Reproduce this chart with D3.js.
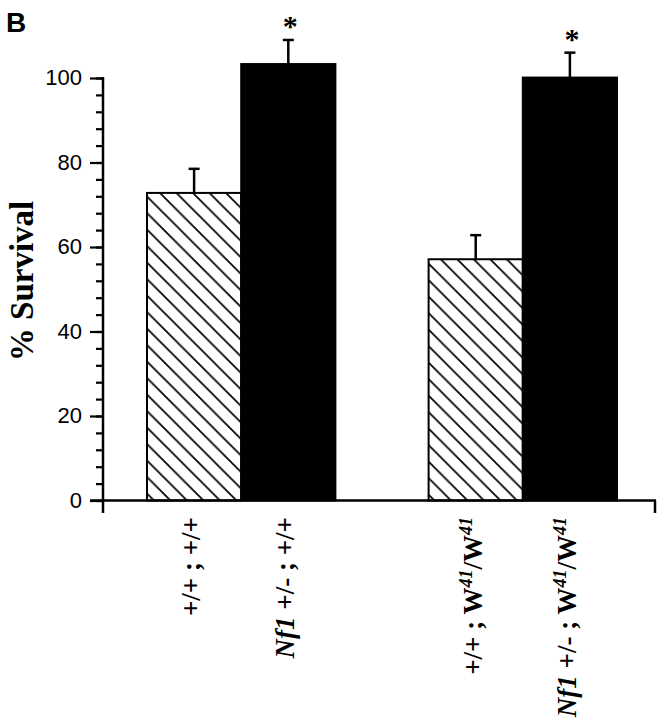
<!DOCTYPE html>
<html>
<head>
<meta charset="utf-8">
<script src="https://cdn.jsdelivr.net/npm/d3@7"></script>
<style>
  html, body { margin: 0; padding: 0; background: #fff; }
  svg { display: block; }
</style>
</head>
<body>
<svg id="chart" width="667" height="720"></svg>
<script>
// ---- data ----
const kitGroups = ["+/+", "W41/W41"];
const nf1Genotypes = ["+/+", "Nf1 +/-"];
const survival = [
  [72.8, 103.3],   // kit +/+ : nf1 +/+, Nf1 +/-
  [57.1, 100.1]    // W41/W41 : nf1 +/+, Nf1 +/-
];
const errorUp = [
  [5.7, 5.7],
  [5.7, 5.9]
];
const significant = [
  [false, true],
  [false, true]
];
const yTicks = [0, 20, 40, 60, 80, 100];
const yMinorTicks = [0, 4, 8, 12, 16, 20, 24, 28, 32, 36, 40, 44, 48, 52, 56, 60, 64, 68, 72, 76, 80, 84, 88, 92, 96, 100];
const yTitle = "% Survival";
const panelLetter = "B";

// ---- layout ----
const svg = d3.select("#chart");
const serif = "'Liberation Serif', 'Times New Roman', serif";
const sans = "'Liberation Sans', Arial, Helvetica, sans-serif";

const y = d3.scaleLinear().domain([0, 100]).range([500.5, 78]);
const x0 = d3.scaleBand().domain(kitGroups).range([147, 617]).paddingInner(0.331).paddingOuter(0);
const x1 = d3.scaleBand().domain(nf1Genotypes).range([0, x0.bandwidth()]).padding(0);

// hatch pattern
const defs = svg.append("defs");
const hp = defs.append("pattern")
  .attr("id", "hatch")
  .attr("patternUnits", "userSpaceOnUse")
  .attr("width", 16.5).attr("height", 16.5);
hp.append("rect").attr("width", 16.5).attr("height", 16.5).attr("fill", "#fff");
hp.append("path")
  .attr("d", "M-4,-4 L20.5,20.5 M-4,12.5 L4,20.5 M12.5,-4 L20.5,4")
  .attr("stroke", "#000").attr("stroke-width", 1.7);

// panel letter
svg.append("text")
  .attr("x", 6).attr("y", 32)
  .attr("font-family", sans).attr("font-weight", "bold").attr("font-size", 28)
  .text(panelLetter);

// bars
const cells = [];
kitGroups.forEach((g, gi) => {
  nf1Genotypes.forEach((n, ni) => {
    cells.push({ g, n, gi, ni, v: survival[gi][ni], e: errorUp[gi][ni], s: significant[gi][ni] });
  });
});

const barG = svg.append("g");
barG.selectAll("rect.bar").data(cells).join("rect")
  .attr("class", "bar")
  .attr("x", d => x0(d.g) + x1(d.n))
  .attr("y", d => y(d.v))
  .attr("width", x1.bandwidth())
  .attr("height", d => y(0) - y(d.v))
  .attr("fill", d => d.ni === 0 ? "url(#hatch)" : "#000")
  .attr("stroke", "#000").attr("stroke-width", 2);

// error bars (upper only)
const errG = svg.append("g").attr("stroke", "#000").attr("stroke-width", 2.5);
cells.forEach(d => {
  const cx = x0(d.g) + x1(d.n) + x1.bandwidth() / 2;
  errG.append("line").attr("x1", cx).attr("x2", cx).attr("y1", y(d.v)).attr("y2", y(d.v + d.e));
  errG.append("line").attr("x1", cx - 5.5).attr("x2", cx + 5.5).attr("y1", y(d.v + d.e)).attr("y2", y(d.v + d.e));
});

// asterisks
svg.append("g").selectAll("text").data(cells.filter(d => d.s)).join("text")
  .attr("x", d => x0(d.g) + x1(d.n) + x1.bandwidth() / 2 + 2)
  .attr("y", d => y(d.v + d.e) - 4)
  .attr("text-anchor", "middle")
  .attr("font-family", serif).attr("font-weight", "bold").attr("font-size", 30)
  .text("*");

// axes lines
const axisG = svg.append("g");
axisG.append("line").attr("x1", 103).attr("x2", 103).attr("y1", y(100) - 1).attr("y2", 513)
  .attr("stroke", "#000").attr("stroke-width", 2.5);
axisG.append("line").attr("x1", 90).attr("x2", 656).attr("y1", y(0)).attr("y2", y(0))
  .attr("stroke", "#000").attr("stroke-width", 2.5);
axisG.append("line").attr("x1", 655).attr("x2", 655).attr("y1", y(0)).attr("y2", 513)
  .attr("stroke", "#000").attr("stroke-width", 2.5);

const minorAxis = d3.axisLeft(y).tickValues(yMinorTicks).tickSize(7).tickFormat("");
const gMin = svg.append("g").attr("transform", "translate(103,0)").call(minorAxis);
gMin.select(".domain").remove();
gMin.selectAll(".tick line").attr("stroke", "#000").attr("stroke-width", 2.2);

const majorAxis = d3.axisLeft(y).tickValues(yTicks).tickSize(13).tickPadding(8).tickFormat(d3.format("d"));
const gMaj = svg.append("g").attr("transform", "translate(103,0)").call(majorAxis);
gMaj.select(".domain").remove();
gMaj.selectAll(".tick line").attr("stroke", "#000").attr("stroke-width", 2.2);
gMaj.selectAll(".tick text")
  .attr("font-family", sans).attr("font-size", 22).attr("fill", "#000")
  .attr("dy", "0.3em");

// y title
svg.append("text")
  .attr("transform", "translate(33,281) rotate(-90)")
  .attr("text-anchor", "middle")
  .attr("font-family", serif).attr("font-weight", "bold").attr("font-size", 33)
  .text(yTitle);

// x labels (rotated)
function labelParts(g, n) {
  const parts = [];
  if (n === "Nf1 +/-") { parts.push({ t: "Nf1", it: true }); parts.push({ t: " +/- ; " }); }
  else parts.push({ t: "+/+ ; " });
  if (g === "W41/W41") {
    parts.push({ t: "W" }); parts.push({ t: "41", sup: true });
    parts.push({ t: "/W" }); parts.push({ t: "41", sup: true });
  } else parts.push({ t: "+/+" });
  return parts;
}
cells.forEach(d => {
  const cx = x0(d.g) + x1(d.n) + x1.bandwidth() / 2 + 6;
  const t = svg.append("text")
    .attr("transform", `translate(${cx},517) rotate(-90)`)
    .attr("text-anchor", "end")
    .attr("font-family", serif).attr("font-weight", "bold").attr("font-size", 27);
  let shifted = false;
  labelParts(d.g, d.n).forEach(p => {
    const ts = t.append("tspan").text(p.t);
    if (p.it) ts.attr("font-style", "italic");
    if (p.sup) { ts.attr("font-size", 18).attr("font-style", "italic").attr("dy", -10); shifted = true; }
    else if (shifted) { ts.attr("dy", 10); shifted = false; }
  });
});
</script>
</body>
</html>
